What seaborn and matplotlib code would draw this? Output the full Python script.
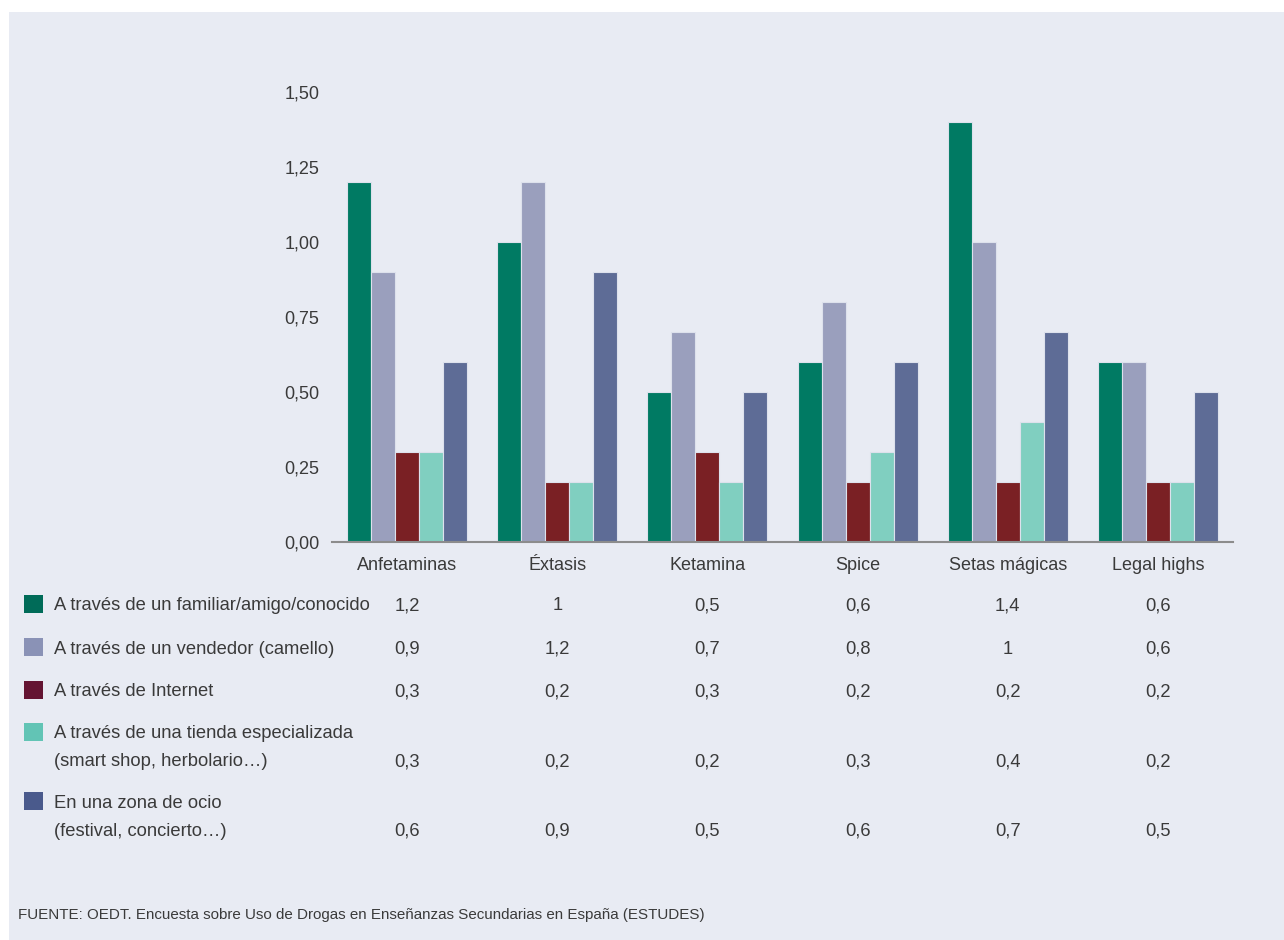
import numpy as np
import pandas as pd
import matplotlib
matplotlib.use("Agg")
import matplotlib.pyplot as plt
import matplotlib.transforms as mtransforms
from matplotlib.patches import Rectangle
import seaborn as sns

# Data
categorias = ["Anfetaminas", "Éxtasis", "Ketamina", "Spice", "Setas mágicas", "Legal highs"]
series = [
    "A través de un familiar/amigo/conocido",
    "A través de un vendedor (camello)",
    "A través de Internet",
    "A través de una tienda especializada\n(smart shop, herbolario…)",
    "En una zona de ocio\n(festival, concierto…)",
]
familiar = [1.2, 1.0, 0.5, 0.6, 1.4, 0.6]
vendedor = [0.9, 1.2, 0.7, 0.8, 1.0, 0.6]
internet = [0.3, 0.2, 0.3, 0.2, 0.2, 0.2]
tienda = [0.3, 0.2, 0.2, 0.3, 0.4, 0.2]
ocio = [0.6, 0.9, 0.5, 0.6, 0.7, 0.5]
yticks = [0.0, 0.25, 0.5, 0.75, 1.0, 1.25, 1.5]

valores = [familiar, vendedor, internet, tienda, ocio]
bar_colors = ["#007A63", "#9A9FBD", "#7A2024", "#80CFC0", "#5E6C96"]
swatch_colors = ["#006B58", "#8A92B6", "#641432", "#62C4B5", "#4A5A8C"]

df = pd.DataFrame(
    [(c, s, v) for s, vals in zip(series, valores) for c, v in zip(categorias, vals)],
    columns=["categoria", "serie", "valor"],
)

BG = "#E8EBF3"
TXT = "#3A3A3A"

sns.set_theme(style="white")
plt.rcParams["font.family"] = ["Liberation Sans", "DejaVu Sans"]

W, H = 1284, 940
fig = plt.figure(figsize=(W / 100, H / 100), dpi=100, facecolor="white")
# panel background (white margin at top and left)
fig.patches.append(Rectangle((9 / W, -0.01), 1.01 - 9 / W, 1.01 - 12 / H,
                             transform=fig.transFigure, facecolor=BG,
                             edgecolor="none", zorder=-10))

ax = fig.add_axes([332 / W, 1 - 542 / H, (1233 - 332) / W, (542 - 92) / H])
ax.set_facecolor(BG)
ax.patch.set_alpha(0)

sns.barplot(data=df, x="categoria", y="valor", hue="serie", hue_order=series,
            order=categorias, palette=bar_colors, width=0.8, ax=ax,
            edgecolor="#DDE1EC", linewidth=0.8, legend=False, saturation=1)

ax.set_xlim(-0.5, 5.5)
ax.set_ylim(0, 1.5)
ax.set_yticks(yticks)
ax.set_yticklabels([f"{t:.2f}".replace(".", ",") for t in yticks])
ax.set_xlabel("")
ax.set_ylabel("")
for s in ["top", "right", "left"]:
    ax.spines[s].set_visible(False)
ax.spines["bottom"].set_color("#8C8C8C")
ax.spines["bottom"].set_linewidth(1.5)
ax.tick_params(axis="both", length=0, labelsize=13, labelcolor=TXT)
ax.tick_params(axis="y", pad=9)
ax.tick_params(axis="x", pad=11)

# Data table below the chart
px = mtransforms.Affine2D().scale(1, -1).translate(0, H)  # pixel coords from top
blend = mtransforms.blended_transform_factory(ax.transData, px)

def fmt(v):
    s = f"{v:g}"
    return s.replace(".", ",")

label_rows = [[606], [649], [692], [734, 762], [803, 831]]
for i, (serie, vals, col) in enumerate(zip(series, valores, swatch_colors)):
    ys = label_rows[i]
    fig.patches.append(Rectangle((24, H - ys[0] - 7), 19, 18, transform=None,
                                 facecolor=col, edgecolor="none"))
    for line, y in zip(serie.split("\n"), ys):
        fig.text(54, y, line, transform=px, fontsize=13.2, color=TXT,
                 ha="left", va="center")
    for j, v in enumerate(vals):
        fig.text(j, ys[-1], fmt(v), transform=blend, fontsize=13.2, color=TXT,
                 ha="center", va="center")

fig.text(18, 915, "FUENTE: OEDT. Encuesta sobre Uso de Drogas en Enseñanzas Secundarias en España (ESTUDES)",
         transform=px, fontsize=10.9, color=TXT, ha="left", va="center")

fig.savefig("out.png", dpi=100, facecolor="white")
